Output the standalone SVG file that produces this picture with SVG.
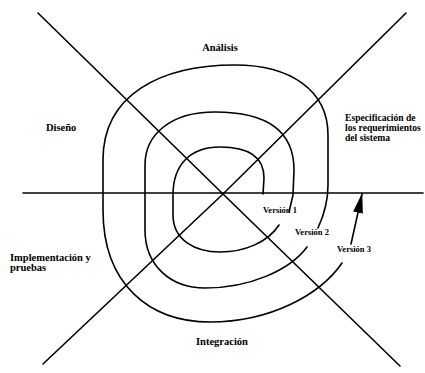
<svg xmlns="http://www.w3.org/2000/svg" width="425" height="373" viewBox="0 0 425 373">
<style>
.ln{fill:none;stroke:#000;stroke-width:1.6;stroke-linecap:round;stroke-linejoin:round}
.lbl{font-family:"Liberation Serif","Times New Roman",serif;font-weight:bold;font-size:10.5px;fill:#000}
.sm{font-size:9.6px}
.ver{font-family:"Liberation Serif","Times New Roman",serif;font-weight:bold;font-size:8.5px;fill:#000}
</style>
<defs>
<marker id="ah" viewBox="0 0 20 10" refX="19" refY="5" markerWidth="20" markerHeight="10" markerUnits="userSpaceOnUse" orient="auto">
<path d="M0,0 L20,5 L0,10 Z" fill="#000"/>
</marker>
</defs>
<rect width="425" height="373" fill="#fff"/>
<g id="axes">
<path class="ln" d="M38,13 L223,194 L400,366"/>
<path class="ln" d="M406,13 L223,194 L43,364"/>
<path class="ln" d="M23,193 L423,193"/>
</g>
<g id="connectors">
<path id="version1" class="ln" d="M263,194 L264,178 C264,158 250,147 220,147 C190,147 173,165 173,195 L173,215 C173,240 195,252 220,252 C245,252 268,242 279,225"/>
<path id="version2" class="ln" d="M289,212 L293,195 L294,170 C294,130 265,112 215,112 C170,112 145,135 145,165 L145,230 C145,265 170,288 205,288 C250,288 290,270 307,247"/>
<path id="version3" class="ln" d="M318,228 C324,215 328,200 328,185 L328,135 C328,90 290,65 235,65 C160,65 103,95 103,160 L103,210 C103,285 150,322 210,322 C270,322 320,295 342,263"/>
<path id="arrow" class="ln" d="M351,244 Q356,222 362,194" marker-end="url(#ah)"/>
</g>
<g id="analisis"><text class="lbl" x="220" y="51" text-anchor="middle">Análisis</text></g>
<g id="diseno"><text class="lbl" x="46" y="131">Diseño</text></g>
<g id="especificacion"><text class="lbl sm" x="345" y="121">Especificación de</text><text class="lbl sm" x="345" y="131">los requerimientos</text><text class="lbl sm" x="345" y="141">del sistema</text></g>
<g id="implementacion"><text class="lbl" x="10" y="261">Implementación y</text><text class="lbl" x="10" y="271">pruebas</text></g>
<g id="integracion"><text class="lbl" x="222" y="345" text-anchor="middle">Integración</text></g>
<g id="v1"><text class="ver" x="263" y="213">Versión 1</text></g>
<g id="v2"><text class="ver" x="295" y="235">Versión 2</text></g>
<g id="v3"><text class="ver" x="337" y="252">Versión 3</text></g>
</svg>
